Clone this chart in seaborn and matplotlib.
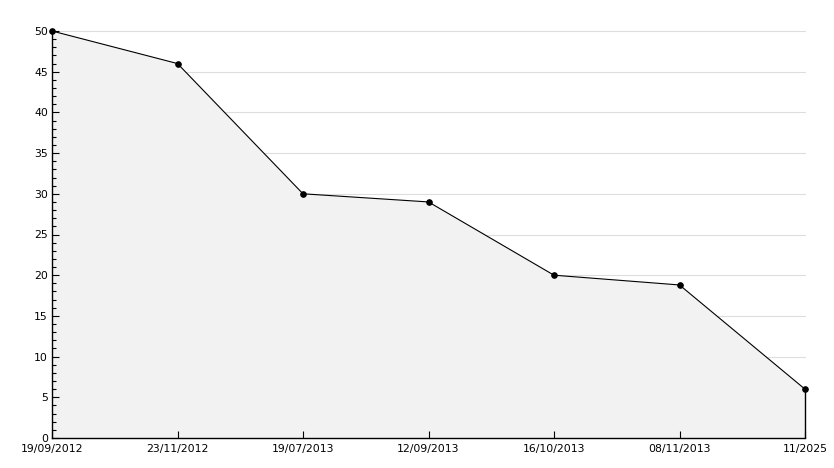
import matplotlib
matplotlib.use("Agg")
import matplotlib.pyplot as plt
from matplotlib.ticker import MultipleLocator
import seaborn as sns
import pandas as pd

dates = ["19/09/2012", "23/11/2012", "19/07/2013", "12/09/2013",
         "16/10/2013", "08/11/2013", "11/2025"]
values = [50, 46, 30, 29, 20, 18.8, 6]
grid_levels = [5, 10, 15, 20, 25, 30, 35, 40, 45, 50]

sns.set_style("white")
plt.rcParams['font.family'] = ['DejaVu Sans']

df = pd.DataFrame({"pos": list(range(len(dates))), "value": values})

fig = plt.figure(figsize=(8.34, 4.68), dpi=100)
ax = fig.add_axes([52/834, 1-438/468, (805-52)/834, (438-31)/468])
ax.set_axisbelow(False)

for g in grid_levels:
    ax.axhline(g, color="#dddddd", linewidth=0.8, zorder=0.2)
ax.fill_between(df["pos"], df["value"], 0, color="#f2f2f2", zorder=0.4, linewidth=0)
ax.vlines(df["pos"].iloc[-1], 0, df["value"].iloc[-1], color="black",
          linewidth=1, zorder=3, clip_on=False)
sns.lineplot(data=df, x="pos", y="value", ax=ax, color="black", linewidth=0.8,
             marker="o", markersize=4, markeredgecolor="black",
             markerfacecolor="black", zorder=4)

ax.set_xlim(0, len(dates) - 1)
ax.set_ylim(0, 50)
ax.yaxis.set_major_locator(MultipleLocator(5))
ax.yaxis.set_minor_locator(MultipleLocator(1))
ax.set_xticks(range(len(dates)))
ax.set_xticklabels(dates)
ax.grid(False)
ax.tick_params(axis="y", which="major", direction="in", length=5, width=0.8,
               labelsize=7.8, pad=3, left=True, colors="black")
ax.tick_params(axis="y", which="minor", direction="in", length=3, width=0.8,
               left=True, colors="black")
ax.tick_params(axis="x", which="major", direction="in", length=5, width=0.8,
               labelsize=7.8, pad=4, bottom=True, colors="black")
for s in ["top", "right"]:
    ax.spines[s].set_visible(False)
for s in ["left", "bottom"]:
    ax.spines[s].set_color("black")
    ax.spines[s].set_linewidth(1)
    ax.spines[s].set_zorder(5)
ax.set_xlabel("")
ax.set_ylabel("")
for ln in ax.lines:
    ln.set_clip_on(False)

fig.savefig("out.png", dpi=100)
